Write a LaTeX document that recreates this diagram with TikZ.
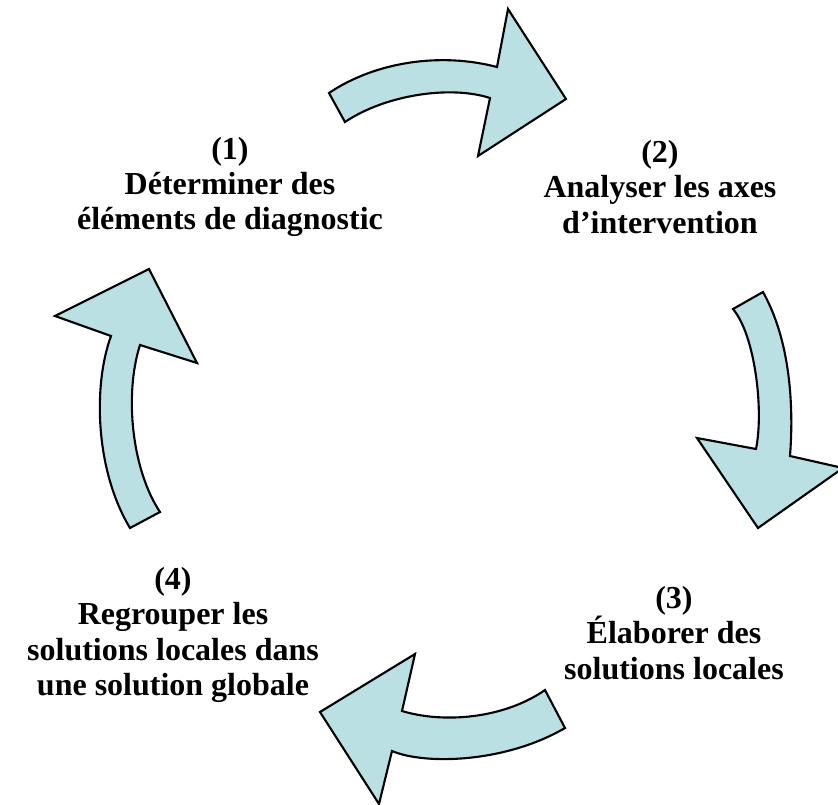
\documentclass[tikz,border=0pt]{standalone}
\usepackage{fontspec}
\setmainfont{Liberation Serif}
\usepackage{xcolor}
\usetikzlibrary{positioning}
\definecolor{arrowfill}{RGB}{186,224,228}

\begin{document}
\begin{tikzpicture}[x=0.01cm, y=-0.01cm,
        blockarrow/.style={fill=arrowfill, draw=black, line width=0.6pt, line join=miter},
        steplabel/.style={align=center, font=\bfseries\fontsize{9.1}{10}\selectfont, inner sep=0pt}]
            \useasboundingbox (0,0) rectangle (838,805);

            % arrow 1 -> 2
            \draw[blockarrow] (329,93) .. controls (375,62) and (440,52) .. (497,67)
                -- (508,9) -- (566,99) -- (478,156) -- (490,98)
                .. controls (450,85) and (385,95) .. (345,122) -- cycle;
            % arrow 2 -> 3
            \draw[blockarrow] (733,309) .. controls (755,335) and (764,410) .. (756,449)
                -- (697,438) -- (758,528) -- (843,468) -- (790,456)
                .. controls (794,405) and (790,340) .. (763,292) -- cycle;
            % arrow 3 -> 4
            \draw[blockarrow] (545,690) .. controls (505,718) and (445,724) .. (402,711)
                -- (415,654) -- (320,712) -- (379,804) -- (392,751)
                .. controls (425,765) and (505,763) .. (565,728) -- cycle;
            % arrow 4 -> 1
            \draw[blockarrow] (160,512) .. controls (132,470) and (124,395) .. (140,345)
                -- (197,363) -- (149,269) -- (55,316) -- (111,336)
                .. controls (93,385) and (95,470) .. (130,528) -- cycle;

            \node[steplabel] (1) at (230,187) {(1)\\D\'eterminer des\\\'el\'ements de diagnostic};
            \node[steplabel] (2) at (660,187) {(2)\\Analyser les axes\\d'intervention};
            \node[steplabel] (3) at (674,633) {(3)\\\'Elaborer des\\solutions locales};
            \node[steplabel] (4) at (173,635) {(4)\\Regrouper les\\solutions locales dans\\une solution globale};
        \end{tikzpicture}
\end{document}
